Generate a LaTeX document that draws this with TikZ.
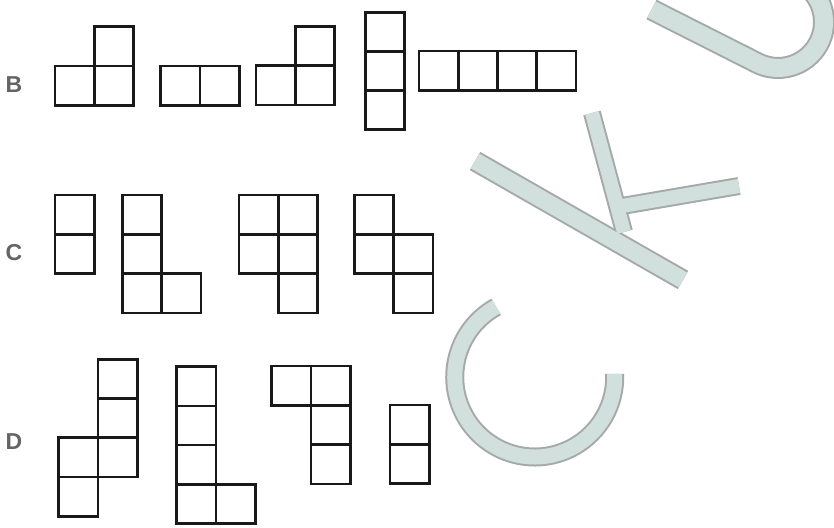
\documentclass[tikz,border=0pt]{standalone}
\usepackage{fontspec}
\setmainfont{Liberation Sans}
\definecolor{wmfill}{RGB}{209,224,220}
\definecolor{wmline}{RGB}{165,170,168}
\definecolor{labgray}{RGB}{100,100,100}

\begin{document}
\begin{tikzpicture}[x=0.5pt, y=-0.5pt,
  cell/.style={draw=black!90, line width=1.3pt},
  lab/.style={font=\bfseries\fontsize{11.5}{13}\selectfont, text=labgray}]
\useasboundingbox (0,0) rectangle (834,528);
% watermark letters
\begin{scope}
\clip (0,0) rectangle (834,528);
\foreach \c/\d in {wmline/0pt, wmfill/2pt} {
  \draw[\c, line width=11pt-\d] (651.5,9.5) -- (755.7,62.2) arc[start angle=119, end angle=-60, radius=46];
  \draw[\c, line width=10.5pt-\d] (475,161) -- (683,280);
  \draw[\c, line width=9pt-\d] (592,113) -- (624,232);
  \draw[\c, line width=9pt-\d] (622,206) -- (739,186);
  \draw[\c, line width=9.5pt-\d] (496.2,306.9) arc[start angle=241.2, end angle=-2.2, radius=80];
}
\end{scope}
% row labels
\node[lab] (labB) at (14,85) {B};
\node[lab] (labC) at (14,253) {C};
\node[lab] (labD) at (14,442) {D};
% row B
\foreach \x/\y in {55/66, 94.3/66, 94.3/26.7, 160.7/66, 200/66,
  256/65.7, 295.3/65.7, 295.3/26.4, 365.3/12.7, 365.3/51.3, 365.3/90,
  419/51, 458.2/51, 497.4/51, 536.6/51}
  \draw[cell] (\x,\y) rectangle ++(39.3,39.3);
% row C
\foreach \x/\y in {55/195, 55/234.3, 122.3/195, 122.3/234.3, 122.3/273.6, 161.6/273.6,
  239/195, 278.3/195, 239/234.3, 278.3/234.3, 278.3/273.6,
  354.3/195, 354.3/234.3, 393.6/234.3, 393.6/273.6}
  \draw[cell] (\x,\y) rectangle ++(39.3,39.3);
% row D
\foreach \x/\y in {98/359.3, 98/398.5, 98/437.7, 58.7/437.7, 58.7/477,
  176.7/366.7, 176.7/405.9, 176.7/445.1, 176.7/484.3, 216/484.3,
  271.7/366, 311/366, 311/405.3, 311/444.6,
  390/405, 390/444.3}
  \draw[cell] (\x,\y) rectangle ++(39.3,39.3);
\end{tikzpicture}
\end{document}
